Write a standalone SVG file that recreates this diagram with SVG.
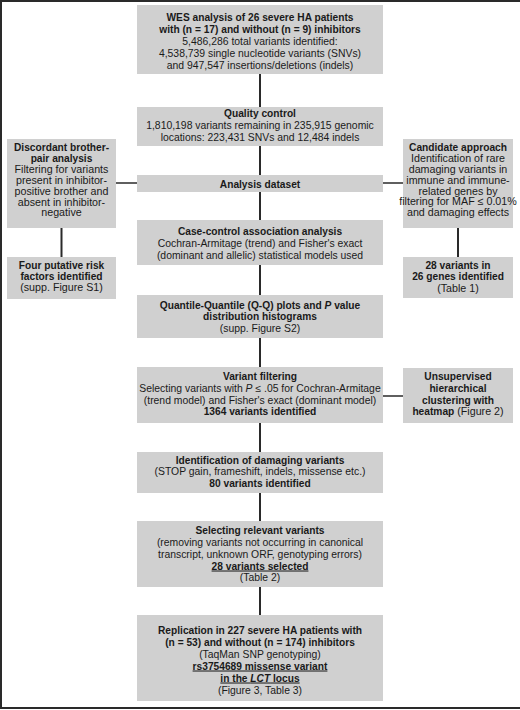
<svg xmlns="http://www.w3.org/2000/svg" width="520" height="710" viewBox="0 0 520 710">
<style>
.box{fill:#d0d0d0;}
text{font-family:"Liberation Sans",Arial,sans-serif;font-size:10.4px;fill:#1a1a1a;text-anchor:middle;}
.b{font-weight:bold;font-size:10.2px;}
.s{font-size:10.7px;}
.s.b{font-size:10.2px;}
.i{font-style:italic;}
.u{text-decoration:underline;}
.ln{stroke:#2a2a2a;stroke-width:2;fill:none;}
.hl{stroke:#2a2a2a;stroke-width:1.5;fill:none;}
</style>
<rect width="520" height="710" fill="#ffffff"/>
<g id="frame" stroke="#2a2a2a" stroke-width="2" fill="none">
<line x1="0" y1="1" x2="520" y2="1"/>
<line x1="1" y1="0" x2="1" y2="709"/>
<line x1="0" y1="708" x2="520" y2="708"/>
</g>
<g id="connectors">
<line class="ln" x1="260" y1="74" x2="260" y2="615"/>
<line class="hl" x1="116" y1="183" x2="403" y2="183"/>
<line class="ln" x1="61.5" y1="228" x2="61.5" y2="257"/>
<line class="ln" x1="458" y1="228" x2="458" y2="257"/>
<line class="hl" x1="383" y1="396" x2="403" y2="396"/>
</g>
<g id="wes">
<rect class="box" x="137" y="5" width="246" height="69"/>
<text x="260" y="21" class="b">WES analysis of 26 severe HA patients</text>
<text x="260" y="33" class="b">with (n = 17) and without (n = 9) inhibitors</text>
<text x="260" y="45">5,486,286 total variants identified:</text>
<text x="260" y="57">4,538,739 single nucleotide variants (SNVs)</text>
<text x="260" y="69">and 947,547 insertions/deletions (indels)</text>
</g>
<g id="qc">
<rect class="box" x="137" y="107" width="246" height="39"/>
<text x="260" y="116.5" class="b">Quality control</text>
<text x="260" y="128.5">1,810,198 variants remaining in 235,915 genomic</text>
<text x="260" y="140.5">locations: 223,431 SNVs and 12,484 indels</text>
</g>
<g id="dataset">
<rect class="box" x="137" y="175" width="246" height="17"/>
<text x="260" y="187.5" class="b">Analysis dataset</text>
</g>
<g id="discordant">
<rect class="box" x="7" y="139" width="109" height="89"/>
<text x="61.5" y="151" class="s b">Discordant brother-</text>
<text x="61.5" y="162" class="s b">pair analysis</text>
<text x="61.5" y="173" class="s">Filtering for variants</text>
<text x="61.5" y="184" class="s">present in inhibitor-</text>
<text x="61.5" y="195" class="s">positive brother and</text>
<text x="61.5" y="205.5" class="s">absent in inhibitor-</text>
<text x="61.5" y="216" class="s">negative</text>
</g>
<g id="four">
<rect class="box" x="7" y="257" width="109" height="42"/>
<text x="61.5" y="268.5" class="s b">Four putative risk</text>
<text x="61.5" y="279.5" class="s b">factors identified</text>
<text x="61.5" y="290.5" class="s">(supp. Figure S1)</text>
</g>
<g id="candidate">
<rect class="box" x="403" y="139" width="110" height="89"/>
<text x="458" y="151" class="s b">Candidate approach</text>
<text x="458" y="162" class="s">Identification of rare</text>
<text x="458" y="173" class="s">damaging variants in</text>
<text x="458" y="184" class="s">immune and immune-</text>
<text x="458" y="194.5" class="s">related genes by</text>
<text x="458" y="205" class="s">filtering for MAF ≤ 0.01%</text>
<text x="458" y="215.5" class="s">and damaging effects</text>
</g>
<g id="twentyeight">
<rect class="box" x="403" y="257" width="110" height="41"/>
<text x="458" y="268.5" class="s b">28 variants in</text>
<text x="458" y="280" class="s b">26 genes identified</text>
<text x="458" y="291.5" class="s">(Table 1)</text>
</g>
<g id="casecontrol">
<rect class="box" x="137" y="220" width="246" height="45"/>
<text x="260" y="235" class="b">Case-control association analysis</text>
<text x="260" y="247">Cochran-Armitage (trend) and Fisher's exact</text>
<text x="260" y="258.5">(dominant and allelic) statistical models used</text>
</g>
<g id="qq">
<rect class="box" x="137" y="295" width="246" height="43"/>
<text x="260" y="308.5" class="b">Quantile-Quantile (Q-Q) plots and <tspan class="i">P</tspan> value</text>
<text x="260" y="320" class="b">distribution histograms</text>
<text x="260" y="331.5">(supp. Figure S2)</text>
</g>
<g id="filtering">
<rect class="box" x="137" y="367" width="246" height="56"/>
<text x="260" y="380" class="b">Variant filtering</text>
<text x="260" y="392">Selecting variants with <tspan class="i">P</tspan> ≤ .05 for Cochran-Armitage</text>
<text x="260" y="403.5">(trend model) and Fisher's exact (dominant model)</text>
<text x="260" y="415" class="b">1364 variants identified</text>
</g>
<g id="unsupervised">
<rect class="box" x="403" y="368" width="110" height="55"/>
<text x="458" y="380" class="s b">Unsupervised</text>
<text x="458" y="392" class="s b">hierarchical</text>
<text x="458" y="403.5" class="s b">clustering with</text>
<text x="458" y="415" class="s"><tspan font-weight="bold" font-size="10.2px">heatmap</tspan> (Figure 2)</text>
</g>
<g id="damaging">
<rect class="box" x="137" y="452" width="246" height="41"/>
<text x="260" y="463.5" class="b">Identification of damaging variants</text>
<text x="260" y="475">(STOP gain, frameshift, indels, missense etc.)</text>
<text x="260" y="487" class="b">80 variants identified</text>
</g>
<g id="selecting">
<rect class="box" x="137" y="521" width="246" height="66"/>
<text x="260" y="533.5" class="b">Selecting relevant variants</text>
<text x="260" y="545.5">(removing variants not occurring in canonical</text>
<text x="260" y="557.5">transcript, unknown ORF, genotyping errors)</text>
<text x="260" y="569.5" class="b u">28 variants selected</text>
<text x="260" y="581">(Table 2)</text>
</g>
<g id="replication">
<rect class="box" x="137" y="615" width="246" height="86"/>
<text x="260" y="634" class="b">Replication in 227 severe HA patients with</text>
<text x="260" y="646" class="b">(n = 53) and without (n = 174) inhibitors</text>
<text x="260" y="657.5">(TaqMan SNP genotyping)</text>
<text x="260" y="669.5" class="b u">rs3754689 missense variant</text>
<text x="260" y="681.5" class="b u">in the <tspan class="i">LCT</tspan> locus</text>
<text x="260" y="693.5">(Figure 3, Table 3)</text>
</g>
</svg>
